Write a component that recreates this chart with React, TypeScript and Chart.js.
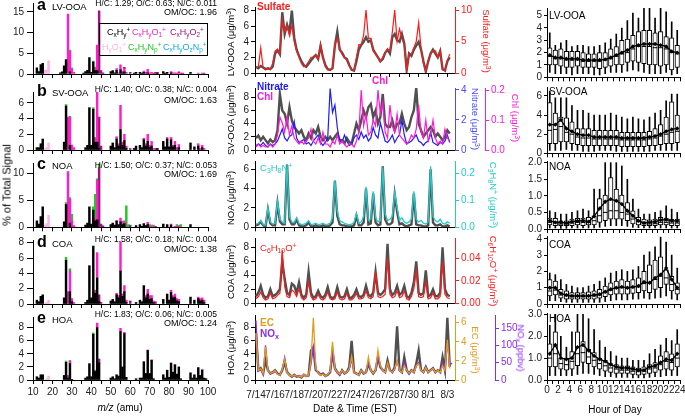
import React, { useEffect, useRef } from "react";
import { Chart, registerables } from "chart.js";

Chart.register(...registerables);

const FONT = "'Liberation Sans', Arial, Helvetica, sans-serif";
Chart.defaults.font.family = FONT;
Chart.defaults.color = "#222";

type Pair = [number, number];

/* ================= Mass spectra: [m/z, % of total signal] ================= */
// family order: CxHy+, CxHyO1+, CxHyO2+, HyO1+, CxHyNp+, CxHyOzNp+
const lvCH: Pair[] = [[12,1.5],[13,0.6],[14,2.3],[15,2.6],[24,0.3],[25,0.5],[26,2.0],[27,3.5],[29,0.5],[36,0.2],[37,0.6],[38,0.9],[39,4.0],[40,0.4],[41,2.9],[42,0.8],[43,0.8],[50,0.6],[51,0.8],[52,0.3],[53,0.9],[55,1.0],[56,0.3],[57,0.5],[62,0.2],[63,0.4],[65,0.4],[66,0.2],[67,0.4],[69,0.3],[74,0.2],[77,0.6],[78,0.2],[79,0.4],[81,0.3],[91,0.4]];
const lvO1: Pair[] = [[28,14.5],[29,5.0],[30,1.2],[31,0.4],[42,0.4],[43,6.2],[53,0.4],[54,0.3],[55,1.2],[56,0.4],[57,0.8],[58,0.3],[67,0.3],[68,0.4],[69,0.8],[70,0.3],[71,0.4],[81,0.3],[82,0.3],[83,0.3],[84,0.2],[85,0.3],[95,0.2],[97,0.2]];
const lvO2: Pair[] = [[44,15.3],[45,0.8],[46,0.2],[57,0.3],[60,0.4],[72,0.2],[73,0.4],[74,0.2],[85,0.2],[86,0.2],[87,0.2],[98,0.2]];
const lvHO: Pair[] = [[16,0.9],[17,1.0],[18,3.2]];
const lvN: Pair[] = [[29,0.3],[30,0.2],[41,0.2],[42,0.5],[58,0.1]];
const lvON: Pair[] = [[30,0.1],[46,0.1]];

const svCH: Pair[] = [[12,0.3],[13,0.3],[14,0.8],[15,1.4],[26,1.0],[27,5.6],[29,0.6],[37,0.3],[38,0.6],[39,5.4],[40,0.6],[41,5.2],[42,1.0],[43,1.0],[44,0.2],[50,0.5],[51,0.9],[52,0.3],[53,1.4],[54,0.5],[55,2.6],[56,0.6],[57,1.2],[58,0.2],[62,0.2],[63,0.5],[65,0.6],[66,0.3],[67,1.3],[68,0.5],[69,1.1],[70,0.3],[71,0.5],[74,0.2],[77,1.1],[78,0.4],[79,1.4],[80,0.4],[81,1.3],[82,0.4],[83,0.6],[85,0.3],[91,0.9],[93,0.4],[95,0.5],[97,0.3]];
const svO1: Pair[] = [[28,4.2],[29,3.6],[30,0.6],[31,0.3],[42,0.4],[43,7.2],[53,0.3],[54,0.3],[55,3.1],[56,0.4],[57,0.8],[58,0.3],[67,0.2],[68,0.3],[69,0.9],[70,0.3],[71,0.6],[72,0.2],[79,0.2],[81,0.3],[82,0.2],[83,0.5],[84,0.3],[85,0.4],[95,0.3],[96,0.2],[97,0.3],[98,0.2]];
const svO2: Pair[] = [[44,4.0],[45,0.5],[60,0.2],[73,0.2]];
const svHO: Pair[] = [[16,0.2],[17,0.3],[18,0.9]];
const svN: Pair[] = [[27,0.2],[29,0.1],[41,0.2],[42,0.2]];
const svON: Pair[] = [[30,0.05]];

const noaCH: Pair[] = [[12,1.2],[13,0.6],[14,2.0],[15,3.8],[26,1.0],[27,4.2],[29,0.8],[37,0.4],[38,0.8],[39,3.8],[40,0.6],[41,3.2],[42,1.2],[43,1.4],[50,0.5],[51,0.8],[52,0.4],[53,1.1],[54,0.5],[55,1.0],[56,0.5],[57,0.7],[63,0.3],[65,0.5],[66,0.2],[67,0.7],[68,0.3],[69,0.5],[77,0.6],[79,0.5],[81,0.4],[91,0.5]];
const noaO1: Pair[] = [[28,10.3],[29,4.4],[30,1.2],[31,0.3],[42,0.4],[43,7.3],[53,0.2],[55,0.7],[56,0.3],[57,0.5],[58,0.2],[69,0.4],[70,0.2],[71,0.4],[81,0.2],[83,0.2],[84,0.2],[85,0.3]];
const noaO2: Pair[] = [[44,11.0],[45,0.6],[46,0.2],[60,0.3],[73,0.2]];
const noaHO: Pair[] = [[16,0.4],[17,0.7],[18,2.2]];
const noaN: Pair[] = [[27,0.4],[29,0.3],[30,1.0],[41,0.6],[42,4.5],[43,0.3],[44,1.1],[56,0.3],[58,3.8],[59,0.5],[70,0.3],[72,0.4],[84,0.3],[86,0.5]];
const noaON: Pair[] = [[30,0.2],[46,0.1],[60,0.1]];

const coaCH: Pair[] = [[12,0.5],[13,0.3],[14,1.0],[15,1.2],[26,0.8],[27,5.7],[29,1.6],[30,0.3],[37,0.2],[38,0.5],[39,5.0],[40,0.8],[41,7.5],[42,1.4],[43,3.4],[44,0.3],[50,0.4],[51,0.6],[52,0.3],[53,1.2],[54,0.8],[55,4.3],[56,1.0],[57,1.6],[58,0.2],[63,0.2],[65,0.5],[66,0.3],[67,2.4],[68,0.8],[69,1.3],[70,0.6],[71,0.7],[72,0.2],[77,0.6],[79,1.3],[80,0.5],[81,1.5],[82,0.8],[83,0.9],[84,0.4],[85,0.3],[91,0.9],[93,0.5],[95,0.7],[96,0.4],[97,0.5],[98,0.2]];
const coaO1: Pair[] = [[28,1.6],[29,2.7],[30,0.4],[31,0.2],[42,0.3],[43,3.3],[53,0.2],[54,0.3],[55,3.8],[56,0.3],[57,0.8],[58,0.3],[68,0.3],[69,0.6],[70,0.5],[71,0.4],[72,0.2],[81,0.3],[82,0.3],[83,0.4],[84,0.3],[85,0.3],[95,0.2],[96,0.3],[97,0.3],[98,0.3]];
const coaO2: Pair[] = [[44,0.9],[45,0.2],[60,0.4],[73,0.3]];
const coaHO: Pair[] = [[16,0.1],[17,0.2],[18,0.5]];
const coaN: Pair[] = [[27,0.4],[29,0.3],[41,0.1],[42,0.1]];
const coaON: Pair[] = [];

const hoaCH: Pair[] = [[12,0.5],[13,0.3],[14,0.8],[15,0.8],[26,0.7],[27,2.7],[28,0.3],[29,2.5],[30,0.1],[37,0.3],[38,0.5],[39,2.5],[40,0.5],[41,7.0],[42,1.3],[43,8.0],[44,2.6],[50,0.3],[51,0.5],[52,0.2],[53,0.8],[54,0.6],[55,7.4],[56,2.0],[57,7.1],[58,0.4],[63,0.2],[65,0.3],[66,0.3],[67,2.8],[68,1.0],[69,4.5],[70,1.0],[71,3.0],[72,0.2],[77,0.8],[78,0.3],[79,1.5],[80,0.4],[81,2.6],[82,1.2],[83,2.3],[84,0.9],[85,2.0],[86,0.2],[91,1.1],[92,0.3],[93,0.8],[94,0.3],[95,1.9],[96,0.7],[97,1.5],[98,0.3],[99,0.2]];
const hoaO1: Pair[] = [[28,0.4],[29,0.4],[43,0.7],[55,0.5],[57,0.2],[69,0.1],[71,0.1],[83,0.1],[97,0.1]];
const hoaO2: Pair[] = [[44,0.6]];
const hoaHO: Pair[] = [[17,0.2],[18,0.6]];
const hoaN: Pair[] = [[27,0.2],[29,0.1],[41,0.2],[42,0.2]];
const hoaON: Pair[] = [];

const FAMILY_COLORS = ["#000000", "#ff1ec8", "#a0147f", "#ffb4e6", "#22c822", "#16a8e8"];

/* ================= Time series: 6-hourly samples from 7/14 00:00 EST ================= */
const SAMPLE_DAYS = 0.25;
const DATE_LABELS = ["7/14", "7/16", "7/18", "7/20", "7/22", "7/24", "7/26", "7/28", "7/30", "8/1", "8/3"];

const lvOoaSeries = [
  0.8,0.6,0.9,0.7, 0.5,0.6,0.5,0.8, 2.5,2.9,2.4,7.8, 5.0,6.2,5.2,8.0, 4.5,3.0,2.2,1.5,
  1.0,0.8,1.2,1.6, 2.0,2.3,1.8,3.5, 2.0,1.0,0.5,0.4, 0.6,3.5,5.3,3.0, 2.6,2.0,1.8,1.0,
  0.4,0.3,1.5,3.0, 3.6,4.0,4.6,4.0, 4.2,3.0,2.5,2.0, 1.5,1.8,2.6,3.0, 2.5,4.6,5.0,4.2,
  4.0,5.0,3.8,0.4, 2.5,2.2,3.0,3.5, 4.0,3.0,1.5,0.2, 1.5,2.5,3.0,2.5, 2.0,2.8,0.5,0.3,
  1.5,2.0];
const sulfateSeries = [
  0.8,1.0,4.0,0.8, 0.6,0.7,0.6,1.5, 3.5,3.8,3.0,8.5, 6.5,7.5,6.0,7.5, 5.0,3.5,2.5,1.5,
  1.0,1.2,1.8,2.5, 2.5,2.8,2.2,4.5, 2.5,1.0,0.5,0.5, 0.8,4.5,5.5,4.0, 3.0,2.5,2.0,1.2,
  0.5,0.4,2.5,4.5, 4.5,6.0,10.0,5.5, 5.5,3.5,3.0,2.5, 1.8,2.5,3.2,3.8, 3.5,6.5,10.0,5.0,
  7.0,5.5,4.5,0.5, 3.0,3.0,4.0,5.0, 8.0,4.0,1.5,0.3, 2.0,3.0,3.5,3.5, 2.5,3.5,0.5,0.4,
  2.0,3.0];
const svOoaSeries = [
  1.8,2.2,1.5,2.0, 1.5,1.0,1.6,1.2, 1.5,3.0,8.5,6.0, 5.5,4.0,6.5,4.5, 3.5,3.0,2.5,3.0,
  2.0,1.5,2.5,1.8, 3.0,2.5,3.5,2.0, 1.5,2.0,1.5,2.0, 1.5,2.0,2.5,1.5, 1.5,1.0,1.8,1.2,
  1.0,2.5,4.0,3.0, 4.5,6.0,5.0,6.5, 7.0,5.0,6.0,4.0, 5.0,8.5,4.0,3.5, 3.5,4.5,3.0,4.0,
  4.0,5.5,4.0,3.0, 3.5,5.0,6.0,9.5, 4.0,3.0,2.0,2.5, 3.0,3.5,3.0,2.0, 2.5,2.0,1.5,2.0,
  3.0,2.5];
const nitrateSeries = [
  0.3,0.4,0.3,0.5, 0.3,0.2,0.4,0.3, 0.4,0.6,1.0,1.4, 0.8,0.6,0.9,1.0, 1.9,0.8,0.5,0.6,
  0.7,0.4,0.5,0.3, 0.6,0.8,1.0,0.5, 0.3,0.5,0.8,4.1, 2.5,3.0,1.5,0.6, 0.5,1.0,0.6,0.3,
  0.4,0.8,1.0,0.7, 1.2,0.8,1.0,0.6, 0.8,1.5,1.0,0.8, 1.8,1.2,0.6,0.5, 0.7,1.0,0.5,0.8,
  1.0,2.0,1.0,0.4, 0.5,0.6,0.8,1.0, 0.6,0.5,0.3,0.5, 0.6,1.2,0.5,0.4, 0.3,0.5,0.4,0.6,
  1.0,0.5];
const chlSeries = [
  0.01,0.02,0.01,0.015, 0.01,0.01,0.02,0.01, 0.02,0.05,0.11,0.09, 0.06,0.11,0.05,0.08, 0.04,0.03,0.02,0.03,
  0.02,0.03,0.04,0.07, 0.03,0.02,0.04,0.02, 0.06,0.02,0.02,0.01, 0.03,0.02,0.05,0.02, 0.03,0.02,0.01,0.02,
  0.02,0.01,0.03,0.06, 0.20,0.08,0.12,0.05, 0.06,0.10,0.08,0.20, 0.12,0.16,0.06,0.04, 0.15,0.08,0.06,0.12,
  0.05,0.04,0.03,0.02, 0.03,0.05,0.04,0.07, 0.15,0.06,0.04,0.10, 0.03,0.05,0.10,0.04, 0.02,0.03,0.02,0.07,
  0.04,0.03];
const noaSeries = [
  0.2,0.3,0.6,0.2, 0.1,1.8,0.4,0.2, 0.2,2.5,0.6,0.3, 0.3,6.5,0.8,0.3, 0.3,0.8,0.2,0.1,
  0.1,0.2,0.5,0.1, 0.1,0.2,0.1,0.1, 0.2,0.1,0.1,0.2, 0.5,4.8,1.2,0.3, 0.2,0.2,0.1,0.1,
  0.1,0.2,1.2,0.2, 0.2,0.5,4.0,0.3, 0.4,3.5,0.5,0.2, 0.3,6.3,0.8,0.3, 0.3,0.5,3.4,1.6,
  0.3,0.4,0.2,0.1, 0.2,0.3,3.5,0.3, 0.2,0.2,0.1,0.1, 0.2,6.0,0.5,0.2, 0.2,0.3,0.1,0.1,
  0.2,0.1];
const c3h8nSeries = [
  0.012,0.015,0.025,0.010, 0.008,0.072,0.020,0.012, 0.015,0.097,0.030,0.020, 0.015,0.229,0.040,0.020, 0.018,0.036,0.015,0.010,
  0.012,0.015,0.025,0.010, 0.012,0.015,0.010,0.012, 0.015,0.010,0.012,0.015, 0.035,0.175,0.060,0.025, 0.020,0.015,0.012,0.010,
  0.012,0.018,0.050,0.015, 0.020,0.040,0.150,0.025, 0.030,0.133,0.035,0.020, 0.025,0.222,0.050,0.025, 0.030,0.040,0.129,0.072,
  0.025,0.035,0.020,0.015, 0.020,0.030,0.133,0.030, 0.020,0.025,0.015,0.012, 0.020,0.226,0.040,0.025, 0.020,0.030,0.015,0.012,
  0.020,0.015];
const coaSeries = [
  1.0,1.5,2.5,1.2, 0.8,1.0,2.0,1.0, 1.2,1.5,2.0,6.0, 3.5,1.5,1.2,2.8, 2.5,1.5,3.0,1.2,
  0.8,1.2,4.5,1.5, 0.8,1.0,1.8,1.0, 0.8,1.2,2.3,1.0, 0.7,1.0,2.3,1.0, 0.8,1.0,2.0,0.8,
  0.8,1.2,2.0,1.0, 0.9,1.2,2.5,1.2, 1.0,1.5,4.5,1.5, 1.2,1.5,2.0,8.5, 2.0,1.2,1.5,2.5,
  1.2,1.5,2.5,1.0, 0.8,1.5,3.0,6.0, 1.5,1.2,1.5,4.7, 1.0,1.2,2.0,1.0, 1.0,1.5,8.0,2.0,
  1.2,1.0];
const c6h10oSeries = [
  0.004,0.006,0.010,0.005, 0.003,0.004,0.009,0.004, 0.005,0.007,0.009,0.047, 0.015,0.006,0.005,0.012, 0.010,0.006,0.013,0.005,
  0.003,0.005,0.019,0.006, 0.003,0.004,0.008,0.004, 0.003,0.005,0.010,0.004, 0.003,0.004,0.010,0.004, 0.003,0.004,0.009,0.003,
  0.003,0.005,0.009,0.004, 0.004,0.005,0.011,0.005, 0.004,0.006,0.028,0.006, 0.005,0.006,0.008,0.040, 0.008,0.005,0.006,0.011,
  0.005,0.006,0.011,0.004, 0.003,0.006,0.013,0.029, 0.006,0.005,0.006,0.019, 0.004,0.005,0.009,0.004, 0.004,0.006,0.037,0.008,
  0.005,0.004];
const hoaSeries = [
  7.2,1.5,1.8,1.0, 3.0,1.5,1.0,1.2, 1.5,1.0,0.8,1.5, 2.8,1.2,0.8,0.5, 0.8,0.5,0.6,0.4,
  0.8,0.6,0.7,4.5, 5.0,1.5,1.2,0.8, 1.0,0.6,0.8,1.2, 4.3,1.8,1.2,0.8, 1.5,1.0,1.2,2.0,
  6.0,1.2,1.0,0.8, 1.5,1.0,1.2,2.5, 1.5,1.0,1.5,3.5, 2.0,1.5,1.2,3.0, 1.5,1.2,2.0,8.2,
  1.5,1.2,3.5,1.5, 1.0,1.5,1.2,2.5, 4.5,1.5,1.2,2.0, 1.2,1.5,1.8,1.2, 1.5,1.2,3.5,1.5,
  9.5,2.0];
const ecSeries = [
  4.9,1.0,1.2,0.7, 3.5,1.0,0.7,0.8, 1.0,0.6,0.5,1.1, 2.2,0.8,0.5,0.4, 0.5,0.4,0.4,0.3,
  0.6,0.4,0.5,2.0, 6.5,1.2,0.8,0.5, 0.6,0.4,0.6,0.9, 4.0,1.2,0.8,0.6, 1.0,0.7,0.8,1.2,
  2.5,0.8,0.7,0.5, 1.0,0.7,0.8,2.4, 1.0,0.7,1.0,3.1, 1.5,1.0,0.8,1.8, 1.0,0.8,1.2,2.0,
  1.0,0.8,1.5,1.0, 0.7,1.0,0.8,1.5, 1.7,1.0,0.8,1.3, 0.8,1.0,1.2,0.8, 1.0,0.8,1.5,1.0,
  4.2,1.2];
const noxSeries = [
  172,25,30,18, 100,28,18,20, 25,18,15,30, 65,22,15,10, 15,10,12,8,
  15,10,12,45, 95,30,20,14, 18,12,15,22, 75,30,20,15, 25,18,22,30,
  60,22,18,15, 28,18,22,50, 28,20,28,70, 35,28,22,45, 28,22,30,55,
  28,22,50,28, 18,28,22,40, 50,28,22,38, 22,28,35,22, 28,22,50,30,
  110,45,48];

/* ================= Diurnal box plots (hour of day) ================= */
const HOURS = [0,1,2,3,4,5,6,7,8,9,10,11,12,13,14,15,16,17,18,19,20,21,22,23];

const lvLo = [0.4,0.3,0.3,0.3,0.2,0.3,0.3,0.3,0.2,0.2,0.3,0.4,0.4,0.4,0.5,0.6,0.5,0.4,0.3,0.3,0.3,0.4,0.2,0.3];
const lvQ1 = [1.0,1.0,0.9,0.8,0.8,0.9,0.8,0.8,0.8,0.7,0.8,0.9,1.0,1.0,1.2,1.3,1.2,1.1,1.0,1.0,0.9,1.0,0.6,0.8];
const lvMed = [1.7,1.5,1.5,1.4,1.4,1.4,1.3,1.3,1.3,1.3,1.4,1.5,1.7,1.9,2.0,2.3,2.5,2.5,2.5,2.4,2.4,2.3,2.0,1.9];
const lvQ3 = [2.4,2.2,2.3,2.1,2.1,2.1,2.0,1.9,1.9,2.0,2.0,2.3,2.5,3.0,3.1,3.4,3.7,3.8,3.8,3.6,3.7,3.3,3.2,2.6];
const lvHi = [3.6,2.6,2.8,3.0,2.5,2.6,2.6,2.5,2.5,2.6,2.8,3.1,3.5,4.0,4.6,5.2,4.8,5.6,5.6,4.8,5.6,5.3,4.5,3.8];
const lvMean = [1.8,1.6,1.6,1.5,1.5,1.5,1.4,1.4,1.4,1.4,1.45,1.6,1.8,2.0,2.2,2.5,2.6,2.7,2.7,2.7,2.6,2.5,2.1,2.0];

const svLo = [0.3,0.3,0.3,0.4,0.3,0.3,0.2,0.2,0.2,0.3,0.3,0.3,0.2,0.2,0.2,0.2,0.2,0.2,0.2,0.3,0.3,0.3,0.3,0.3];
const svQ1 = [1.0,1.0,1.2,1.2,1.0,0.9,0.8,0.8,0.8,0.8,0.8,0.8,0.8,0.7,0.7,0.7,0.7,0.7,0.8,0.8,0.9,1.0,1.0,1.1];
const svMed = [2.4,2.5,2.8,2.2,2.0,1.7,1.6,1.6,1.5,1.5,1.5,1.5,1.5,1.4,1.4,1.4,1.4,1.4,1.5,1.6,1.8,2.0,2.2,2.3];
const svQ3 = [5.3,4.2,3.8,3.7,3.3,2.6,2.6,2.6,2.4,2.4,2.4,2.4,2.4,2.2,2.2,2.2,2.2,2.2,2.3,2.6,3.0,3.8,5.4,4.0];
const svHi = [6.5,5.8,5.8,5.8,5.0,4.5,4.5,4.2,4.0,4.0,4.0,4.2,4.0,3.8,3.6,3.8,3.6,3.5,3.8,4.2,4.5,5.5,6.2,6.2];
const svMean = [3.0,3.0,3.5,2.6,2.3,2.0,1.9,1.9,1.7,1.7,1.7,1.7,1.7,1.6,1.6,1.6,1.6,1.6,1.7,1.8,2.0,2.3,2.5,2.6];

const noaLo = [0.03,0.03,0.02,0.02,0.03,0.03,0.03,0.03,0.03,0.05,0.08,0.1,0.1,0.1,0.08,0.05,0.04,0.03,0.03,0.03,0.03,0.03,0.03,0.03];
const noaQ1 = [0.12,0.1,0.1,0.1,0.1,0.12,0.1,0.12,0.12,0.2,0.25,0.3,0.3,0.3,0.25,0.15,0.12,0.1,0.1,0.1,0.12,0.12,0.1,0.1];
const noaMed = [0.2,0.18,0.15,0.15,0.18,0.2,0.2,0.2,0.25,0.4,0.5,0.55,0.55,0.5,0.45,0.3,0.22,0.18,0.15,0.16,0.2,0.2,0.18,0.18];
const noaQ3 = [0.33,0.32,0.25,0.25,0.3,0.32,0.33,0.35,0.4,0.92,1.02,1.55,1.2,1.02,0.8,0.55,0.35,0.3,0.28,0.3,0.35,0.33,0.3,0.3];
const noaHi = [0.55,0.5,0.45,0.45,0.5,0.55,0.6,0.55,1.2,1.2,2.0,2.0,2.0,1.9,1.5,0.9,0.6,0.45,0.45,0.5,0.55,0.7,0.6,0.5];
const noaMean = [0.25,0.2,0.2,0.18,0.22,0.24,0.25,0.22,0.38,0.62,0.82,0.9,0.85,0.75,0.55,0.4,0.25,0.18,0.2,0.22,0.27,0.28,0.25,0.24];

const coaLo = [0.2,0.2,0.15,0.1,0.1,0.1,0.1,0.1,0.1,0.1,0.15,0.2,0.25,0.25,0.25,0.3,0.3,0.35,0.3,0.35,0.4,0.5,0.3,0.25];
const coaQ1 = [0.5,0.55,0.35,0.3,0.3,0.3,0.3,0.3,0.3,0.35,0.45,0.55,0.6,0.6,0.6,0.65,0.7,0.8,0.7,0.9,1.0,1.2,0.8,0.6];
const coaMed = [0.8,0.85,0.55,0.5,0.45,0.45,0.45,0.45,0.5,0.55,0.7,0.85,0.95,1.0,0.95,1.0,1.05,1.25,1.3,1.5,1.7,1.6,1.2,0.9];
const coaQ3 = [1.5,1.4,0.9,0.8,0.7,0.7,0.7,0.75,0.8,0.9,1.1,1.3,1.4,1.5,1.4,1.5,1.6,2.0,2.4,2.7,2.9,2.1,1.7,1.3];
const coaHi = [1.9,1.8,1.5,1.2,1.1,1.0,1.0,1.1,1.2,1.4,1.6,1.9,2.0,2.1,2.0,2.1,2.3,3.0,3.2,3.5,4.1,3.8,3.0,2.2];
const coaMean = [1.0,1.0,0.65,0.55,0.5,0.5,0.5,0.5,0.55,0.6,0.75,0.9,1.0,1.05,1.0,1.05,1.1,1.35,1.3,1.6,1.8,2.2,1.5,1.0];

const hoaLo = [0.2,0.2,0.2,0.2,0.2,0.25,0.3,0.3,0.25,0.2,0.15,0.15,0.12,0.12,0.12,0.1,0.1,0.1,0.12,0.15,0.15,0.2,0.2,0.2];
const hoaQ1 = [0.6,0.6,0.5,0.45,0.5,0.65,0.8,0.75,0.6,0.5,0.4,0.35,0.3,0.3,0.3,0.25,0.22,0.25,0.3,0.35,0.45,0.5,0.45,0.6];
const hoaMed = [1.0,1.2,0.75,0.7,0.85,1.2,1.25,1.05,0.9,0.75,0.65,0.55,0.5,0.45,0.45,0.4,0.38,0.4,0.5,0.55,0.7,0.85,0.8,1.0];
const hoaQ3 = [1.65,2.2,1.0,1.0,1.3,2.2,1.75,1.4,1.25,1.0,0.9,0.75,0.7,0.65,0.65,0.6,0.55,0.6,0.7,0.8,1.1,1.3,1.2,1.65];
const hoaHi = [2.5,3.0,2.0,1.5,2.2,3.0,3.0,2.8,2.3,1.8,1.5,1.3,1.1,1.0,1.0,0.9,0.9,0.9,1.2,1.4,1.6,1.9,1.8,2.3];
const hoaMean = [1.2,1.6,1.0,0.95,1.0,1.5,1.6,1.35,1.1,0.95,0.85,0.7,0.6,0.55,0.55,0.5,0.45,0.45,0.6,0.65,0.8,0.95,0.9,1.2];

/* ================= helpers ================= */
type Frame = { L: number; T: number; W: number; H: number; leftW: number; rightW: number; topPad: number; bottomH: number };

function frame(area: number[], mL: number, mR: number, mT: number, mB: number): Frame {
  const [l, t, r, b] = area;
  const L = Math.floor(l - mL);
  const T = Math.floor(t - mT);
  const W = Math.ceil(r + mR) - L;
  const H = Math.ceil(b + mB) - T;
  return { L, T, W, H, leftW: l - L, rightW: L + W - r, topPad: t - T, bottomH: T + H - b };
}

const zeroPad = (s: any) => { s.paddingLeft = 0; s.paddingRight = 0; s.paddingTop = 0; s.paddingBottom = 0; };
const fixW = (w: number) => (s: any) => { s.width = w; zeroPad(s); };
const fixH = (h: number) => (s: any) => { s.height = h; zeroPad(s); };

function yAxis(o: any) {
  const c = o.color ?? "#000";
  return {
    type: "linear",
    position: o.pos ?? "left",
    min: 0,
    max: o.max,
    stacked: o.stacked ?? false,
    afterFit: fixW(o.w),
    grid: { drawOnChartArea: false, drawTicks: true, tickLength: o.tl ?? 4, tickColor: c, color: c, lineWidth: 1 },
    border: { display: true, color: c, width: 1 },
    ticks: {
      stepSize: o.step, includeBounds: false, autoSkip: false, padding: o.pad ?? 2,
      color: o.color ? o.color : "#222",
      font: { family: FONT, size: 10 },
      callback: (v: any) => (o.fmt ? o.fmt(Number(v)) : String(Number(v))),
    },
  };
}

function xAxis(o: any) {
  return {
    type: "linear",
    position: "bottom",
    min: o.min,
    max: o.max,
    offset: false,
    stacked: o.stacked ?? false,
    afterFit: fixH(o.h),
    grid: { drawOnChartArea: false, drawTicks: true, tickLength: o.tl ?? 4, tickColor: "#000", color: "#000", offset: false },
    border: { display: true, color: "#000", width: 1 },
    ticks: {
      stepSize: o.step, includeBounds: false, autoSkip: false, maxRotation: 0, minRotation: 0,
      padding: o.pad ?? 2, color: "#222", font: { family: FONT, size: 10 },
      callback: (v: any) => o.label(Number(v)),
    },
  };
}

function baseOptions(f: Frame, rightAxes: number, scales: any) {
  return {
    responsive: false,
    animation: false,
    events: [],
    layout: { padding: { left: 0, top: f.topPad, right: f.rightW - rightAxes, bottom: 0 } },
    plugins: { legend: { display: false }, tooltip: { enabled: false } },
    scales,
  };
}

function ChartBox({ f, config }: { f: Frame; config: any }) {
  const ref = useRef<HTMLCanvasElement | null>(null);
  useEffect(() => {
    if (!ref.current) return;
    const chart = new Chart(ref.current, config);
    return () => chart.destroy();
  }, []);
  return (
    <canvas ref={ref} width={f.W} height={f.H}
      style={{ position: "absolute", left: f.L, top: f.T, width: f.W, height: f.H }} />
  );
}

/* ----- spectra ----- */
function spectrumConfig(f: Frame, fams: Pair[][], yMax: number, yStep: number, showLabels: boolean) {
  return {
    type: "bar",
    data: {
      datasets: fams.map((fam, i) => ({
        data: fam.map(([x, y]) => ({ x, y })),
        backgroundColor: FAMILY_COLORS[i],
        borderWidth: 0,
        barThickness: 1.8,
        stack: "s",
      })),
    },
    options: baseOptions(f, 0, {
      x: xAxis({ min: 10, max: 100, step: 5, h: f.bottomH, pad: 2.5, stacked: true,
        label: (v: number) => (showLabels && v % 10 === 0 ? String(v) : "") }),
      y: yAxis({ max: yMax, step: yStep, w: f.leftW, stacked: true, tl: 6, pad: 3 }),
    }),
  };
}

/* ----- time series ----- */
function lineDs(values: number[], color: string, width: number, axis: string, order: number) {
  return {
    type: "line",
    data: values.map((y, i) => ({ x: i * SAMPLE_DAYS, y })),
    borderColor: color,
    backgroundColor: color,
    borderWidth: width,
    pointRadius: 0,
    tension: 0,
    yAxisID: axis,
    order,
  };
}

function seriesConfig(f: Frame, datasets: any[], yScales: any, rightAxes: number, showLabels: boolean) {
  return {
    type: "line",
    data: { datasets },
    options: baseOptions(f, rightAxes, {
      x: xAxis({ min: -0.1, max: 20.8, step: 1, h: f.bottomH, pad: 5.5,
        label: (v: number) => {
          if (!showLabels) return "";
          const i = Math.round(v);
          if (Math.abs(v - i) > 1e-6 || i % 2 !== 0) return "";
          return DATE_LABELS[i / 2] ?? "";
        } }),
      ...yScales,
    }),
  };
}

/* ----- box plots ----- */
function boxConfig(f: Frame, lo: number[], q1: number[], med: number[], q3: number[], hi: number[], mean: number[],
  yMax: number, yStep: number, fmt: ((v: number) => string) | undefined, showLabels: boolean) {
  const xs = HOURS.map((h) => h + 0.5);
  return {
    type: "bar",
    data: {
      datasets: [
        { type: "line", data: xs.map((x, i) => ({ x, y: mean[i] })), borderColor: "#000", borderWidth: 1.3,
          pointStyle: "rectRot", pointRadius: 2.2, pointBackgroundColor: "#000", pointBorderColor: "#000", pointBorderWidth: 0, order: 1 },
        { type: "line", data: xs.map((x, i) => ({ x, y: med[i] })), showLine: false, pointStyle: "line",
          pointRadius: 2.3, pointBorderColor: "#000", pointBorderWidth: 1, borderColor: "#000", order: 2 },
        { type: "bar", data: xs.map((x, i) => ({ x, y: [q1[i], q3[i]] })), backgroundColor: "#fff",
          borderColor: "#000", borderWidth: 1, borderSkipped: false, barThickness: 4.5, grouped: false, order: 3 },
        { type: "bar", data: xs.map((x, i) => ({ x, y: [lo[i], hi[i]] })), backgroundColor: "#000",
          borderWidth: 0, barThickness: 1, grouped: false, order: 4 },
      ],
    },
    options: baseOptions(f, 0, {
      x: xAxis({ min: 0, max: 24, step: 1, h: f.bottomH, pad: 0,
        label: (v: number) => (showLabels && v % 2 === 0 ? String(v) : "") }),
      y: yAxis({ max: yMax, step: yStep, w: f.leftW, fmt, tl: 3, pad: 2 }),
    }),
  };
}

/* ----- text helpers ----- */
const sub = (s: string) => <sub style={{ fontSize: "0.72em", verticalAlign: "-0.3em", lineHeight: 0 }}>{s}</sub>;
const sup = (s: string) => <sup style={{ fontSize: "0.72em", verticalAlign: "0.5em", lineHeight: 0 }}>{s}</sup>;

function Lbl({ x, base, size = 10, color = "#000", bold = false, align = "left", children }: any) {
  const style: any = {
    position: "absolute", top: base - 0.85 * size, fontSize: size, lineHeight: 1, color,
    fontWeight: bold ? "bold" : "normal", whiteSpace: "nowrap", fontFamily: FONT,
  };
  if (align === "left") style.left = x;
  else if (align === "right") style.right = 685 - x;
  else { style.left = x; style.transform = "translateX(-50%)"; }
  return <div style={style}>{children}</div>;
}

function VLbl({ x, y, size = 9.5, color = "#000", rot = -90, children }: any) {
  return (
    <div style={{ position: "absolute", left: x, top: y, transform: `translate(-50%,-50%) rotate(${rot}deg)`,
      fontSize: size, lineHeight: 1, color, whiteSpace: "nowrap", fontFamily: FONT, fontWeight: "normal" }}>{children}</div>
  );
}

/* ================= panels ================= */
const SPEC_AREAS = [[33, 3.7, 208, 74], [33, 92, 208, 150], [33, 163.6, 208, 227.3], [33, 240, 208, 304], [33, 317, 208, 380]];
const SPEC_FAMS = [
  [lvCH, lvO1, lvO2, lvHO, lvN, lvON],
  [svCH, svO1, svO2, svHO, svN, svON],
  [noaCH, noaO1, noaO2, noaHO, noaN, noaON],
  [coaCH, coaO1, coaO2, coaHO, coaN, coaON],
  [hoaCH, hoaO1, hoaO2, hoaHO, hoaN, hoaON],
];
const SPEC_YMAX = [17, 7.4, 11.8, 8.35, 9.63];
const SPEC_YSTEP = [5, 2, 5, 2, 2];
const SPEC_LETTERS = ["a", "b", "c", "d", "e"];
const SPEC_NAMES = ["LV-OOA", "SV-OOA", "NOA", "COA", "HOA"];
const SPEC_HC = ["H/C: 1.29; O/C: 0.63; N/C: 0.011", "H/C: 1.40; O/C: 0.38; N/C: 0.004", "H/C: 1.50; O/C: 0.37; N/C: 0.053", "H/C: 1.58; O/C: 0.18; N/C: 0.004", "H/C: 1.83; O/C: 0.06; N/C: 0.005"];
const SPEC_OM = ["OM/OC: 1.96", "OM/OC: 1.63", "OM/OC: 1.69", "OM/OC: 1.38", "OM/OC: 1.24"];
const ROW_LETTER_BASE = [10.7, 97, 170, 248, 324];
const ROW_HC_BASE = [6.5, 92, 168.5, 242.5, 317.5];
const ROW_OM_BASE = [16, 103.5, 177.5, 252.5, 326.5];

const MID_AREAS = [[255, 7, 455, 73], [255, 88, 455, 150], [255, 161, 455, 227.3], [255, 238, 455, 303.3], [255, 315, 455, 380]];
const BOX_AREAS = [[547, 8, 680, 77.3], [547, 87, 680, 153.3], [547, 161, 680, 229], [547, 236, 680, 304], [547, 313, 680, 380]];

const RED = "#ff1a1a", BLUE = "#1c1cff", MAG = "#ff1ad2", CYAN = "#22cccc", ORANGE = "#e39b1e", PURPLE = "#8c2bef", GRAY = "#505050";

export default function App() {
  const specFrames = SPEC_AREAS.map((a, i) => frame(a, 33, 12, 6, i === 4 ? 22 : 8));
  const midFrames = MID_AREAS.map((a, i) => frame(a, 20, 75, 6, i === 4 ? 22 : 8));
  const boxFrames = BOX_AREAS.map((a, i) => frame(a, 22, 5, 6, i === 4 ? 20 : 8));

  const f2 = (v: number) => v.toFixed(1);

  const midConfigs = [
    seriesConfig(midFrames[0], [lineDs(lvOoaSeries, GRAY, 2.4, "y", 2), lineDs(sulfateSeries, RED, 1.2, "yR", 1)], {
      y: yAxis({ max: 8.47, step: 2, w: midFrames[0].leftW }),
      yR: yAxis({ pos: "right", max: 10.48, step: 5, w: 30, color: RED }),
    }, 30, false),
    seriesConfig(midFrames[1], [lineDs(svOoaSeries, GRAY, 2.4, "y", 3), lineDs(nitrateSeries, BLUE, 1.2, "yN", 2), lineDs(chlSeries, MAG, 1.2, "yC", 1)], {
      y: yAxis({ max: 9.41, step: 2, w: midFrames[1].leftW }),
      yN: yAxis({ pos: "right", max: 4.13, step: 2, w: 30, color: "#4a4aff" }),
      yC: yAxis({ pos: "right", max: 0.207, step: 0.1, w: 35, color: MAG, fmt: f2 }),
    }, 65, false),
    seriesConfig(midFrames[2], [lineDs(noaSeries, GRAY, 2.4, "y", 2), lineDs(c3h8nSeries, CYAN, 1.3, "yR", 1)], {
      y: yAxis({ max: 6.86, step: 2, w: midFrames[2].leftW }),
      yR: yAxis({ pos: "right", max: 0.2456, step: 0.1, w: 30, color: CYAN, fmt: f2 }),
    }, 30, false),
    seriesConfig(midFrames[3], [lineDs(coaSeries, GRAY, 2.4, "y", 2), lineDs(c6h10oSeries, RED, 1.2, "yR", 1)], {
      y: yAxis({ max: 9.33, step: 2, w: midFrames[3].leftW }),
      yR: yAxis({ pos: "right", max: 0.058, step: 0.02, w: 30, color: RED, fmt: (v: number) => v.toFixed(2) }),
    }, 30, false),
    seriesConfig(midFrames[4], [lineDs(hoaSeries, GRAY, 2.4, "y", 3), lineDs(noxSeries, PURPLE, 1.3, "yX", 2), lineDs(ecSeries, ORANGE, 1.3, "yE", 1)], {
      y: yAxis({ max: 9.94, step: 2, w: midFrames[4].leftW }),
      yE: yAxis({ pos: "right", max: 6.8, step: 2, w: 40, color: ORANGE }),
      yX: yAxis({ pos: "right", max: 188, step: 50, w: 30, color: PURPLE }),
    }, 70, true),
  ];

  const boxConfigs = [
    boxConfig(boxFrames[0], lvLo, lvQ1, lvMed, lvQ3, lvHi, lvMean, 5.62, 1, undefined, false),
    boxConfig(boxFrames[1], svLo, svQ1, svMed, svQ3, svHi, svMean, 6.94, 2, undefined, false),
    boxConfig(boxFrames[2], noaLo, noaQ1, noaMed, noaQ3, noaHi, noaMean, 2.05, 0.5, f2, false),
    boxConfig(boxFrames[3], coaLo, coaQ1, coaMed, coaQ3, coaHi, coaMean, 4.17, 1, undefined, false),
    boxConfig(boxFrames[4], hoaLo, hoaQ1, hoaMed, hoaQ3, hoaHi, hoaMean, 3.06, 1, f2, true),
  ];

  const ug = <>(μg/m{sup("3")})</>;

  return (
    <div style={{ position: "absolute", left: 0, top: 0, width: 685, height: 416, background: "#fff", overflow: "hidden", fontFamily: FONT }}>
      {specFrames.map((f, i) => (
        <ChartBox key={"s" + i} f={f} config={spectrumConfig(f, SPEC_FAMS[i], SPEC_YMAX[i], SPEC_YSTEP[i], i === 4)} />
      ))}
      {midFrames.map((f, i) => <ChartBox key={"m" + i} f={f} config={midConfigs[i]} />)}
      {boxFrames.map((f, i) => <ChartBox key={"b" + i} f={f} config={boxConfigs[i]} />)}

      {/* spectra annotations */}
      {SPEC_LETTERS.map((l, i) => (
        <React.Fragment key={"t" + i}>
          <Lbl x={37} base={ROW_LETTER_BASE[i]} size={16} bold>{l}</Lbl>
          <Lbl x={52} base={ROW_LETTER_BASE[i] - 0.5} size={9.5}>{SPEC_NAMES[i]}</Lbl>
          <Lbl x={217} base={ROW_HC_BASE[i]} size={8.5} align="right">{SPEC_HC[i]}</Lbl>
          <Lbl x={217} base={ROW_OM_BASE[i]} size={9} align="right">{SPEC_OM[i]}</Lbl>
        </React.Fragment>
      ))}
      <div style={{ position: "absolute", left: 99, top: 23, width: 109, height: 33, border: "1px solid #000", boxSizing: "border-box" }} />
      <Lbl x={107} base={36} size={9}>C{sub("x")}H{sub("y")}{sup("+")}</Lbl>
      <Lbl x={132} base={36} size={9} color={FAMILY_COLORS[1]}>C{sub("x")}H{sub("y")}O{sub("1")}{sup("+")}</Lbl>
      <Lbl x={170} base={36} size={9} color={FAMILY_COLORS[2]}>C{sub("x")}H{sub("y")}O{sub("2")}{sup("+")}</Lbl>
      <Lbl x={102} base={50.5} size={9} color={FAMILY_COLORS[3]}>H{sub("y")}O{sub("1")}{sup("+")}</Lbl>
      <Lbl x={128} base={50.5} size={9} color={FAMILY_COLORS[4]}>C{sub("x")}H{sub("y")}N{sub("p")}{sup("+")}</Lbl>
      <Lbl x={163} base={50.5} size={9} color={FAMILY_COLORS[5]}>C{sub("x")}H{sub("y")}O{sub("z")}N{sub("p")}{sup("+")}</Lbl>
      <VLbl x={7} y={185} size={11}>% of Total Signal</VLbl>
      <Lbl x={120} base={411} size={10} align="center"><i>m/z</i> (amu)</Lbl>

      {/* time series annotations */}
      <Lbl x={257} base={10} size={10} bold color={RED}>Sulfate</Lbl>
      <Lbl x={257} base={90.3} size={10} bold color={BLUE}>Nitrate</Lbl>
      <Lbl x={257} base={100.3} size={10} bold color={MAG}>Chl</Lbl>
      <Lbl x={372} base={84} size={10} bold color={MAG}>Chl</Lbl>
      <Lbl x={260} base={171} size={9.5} color={CYAN}>C{sub("3")}H{sub("8")}N{sup("+")}</Lbl>
      <Lbl x={260} base={251.5} size={9.5} color={RED}>C{sub("6")}H{sub("10")}O{sup("+")}</Lbl>
      <Lbl x={260} base={326} size={10} bold color={ORANGE}>EC</Lbl>
      <Lbl x={260} base={337} size={10} bold color={PURPLE}>NO{sub("x")}</Lbl>

      <VLbl x={231} y={42}>LV-OOA {ug}</VLbl>
      <VLbl x={231} y={120}>SV-OOA {ug}</VLbl>
      <VLbl x={231} y={198}>NOA {ug}</VLbl>
      <VLbl x={231} y={272}>COA {ug}</VLbl>
      <VLbl x={231} y={348}>HOA {ug}</VLbl>

      <VLbl x={486} y={41} rot={90} color={RED}>Sulfate {ug}</VLbl>
      <VLbl x={475} y={119} rot={90} color="#4a4aff">Nitrate {ug}</VLbl>
      <VLbl x={515} y={118} rot={90} color={MAG}>Chl {ug}</VLbl>
      <VLbl x={493} y={195} rot={90} color={CYAN}>C{sub("3")}H{sub("8")}N{sup("+")} {ug}</VLbl>
      <VLbl x={493} y={271} rot={90} color={RED}>C{sub("6")}H{sub("10")}O{sup("+")} {ug}</VLbl>
      <VLbl x={475} y={350} rot={90} color={ORANGE}>EC {ug}</VLbl>
      <VLbl x={521} y={348} rot={90} color={PURPLE}>NO{sub("x")} (ppbv)</VLbl>
      <Lbl x={355} base={412} size={10} align="center">Date &amp; Time (EST)</Lbl>

      {/* box plot annotations */}
      <Lbl x={549} base={19} size={10}>LV-OOA</Lbl>
      <Lbl x={549} base={95} size={10}>SV-OOA</Lbl>
      <Lbl x={549} base={170} size={10}>NOA</Lbl>
      <Lbl x={549} base={248.3} size={10}>COA</Lbl>
      <Lbl x={549} base={322.7} size={10}>HOA</Lbl>
      <Lbl x={615} base={413} size={10} align="center">Hour of Day</Lbl>
    </div>
  );
}
